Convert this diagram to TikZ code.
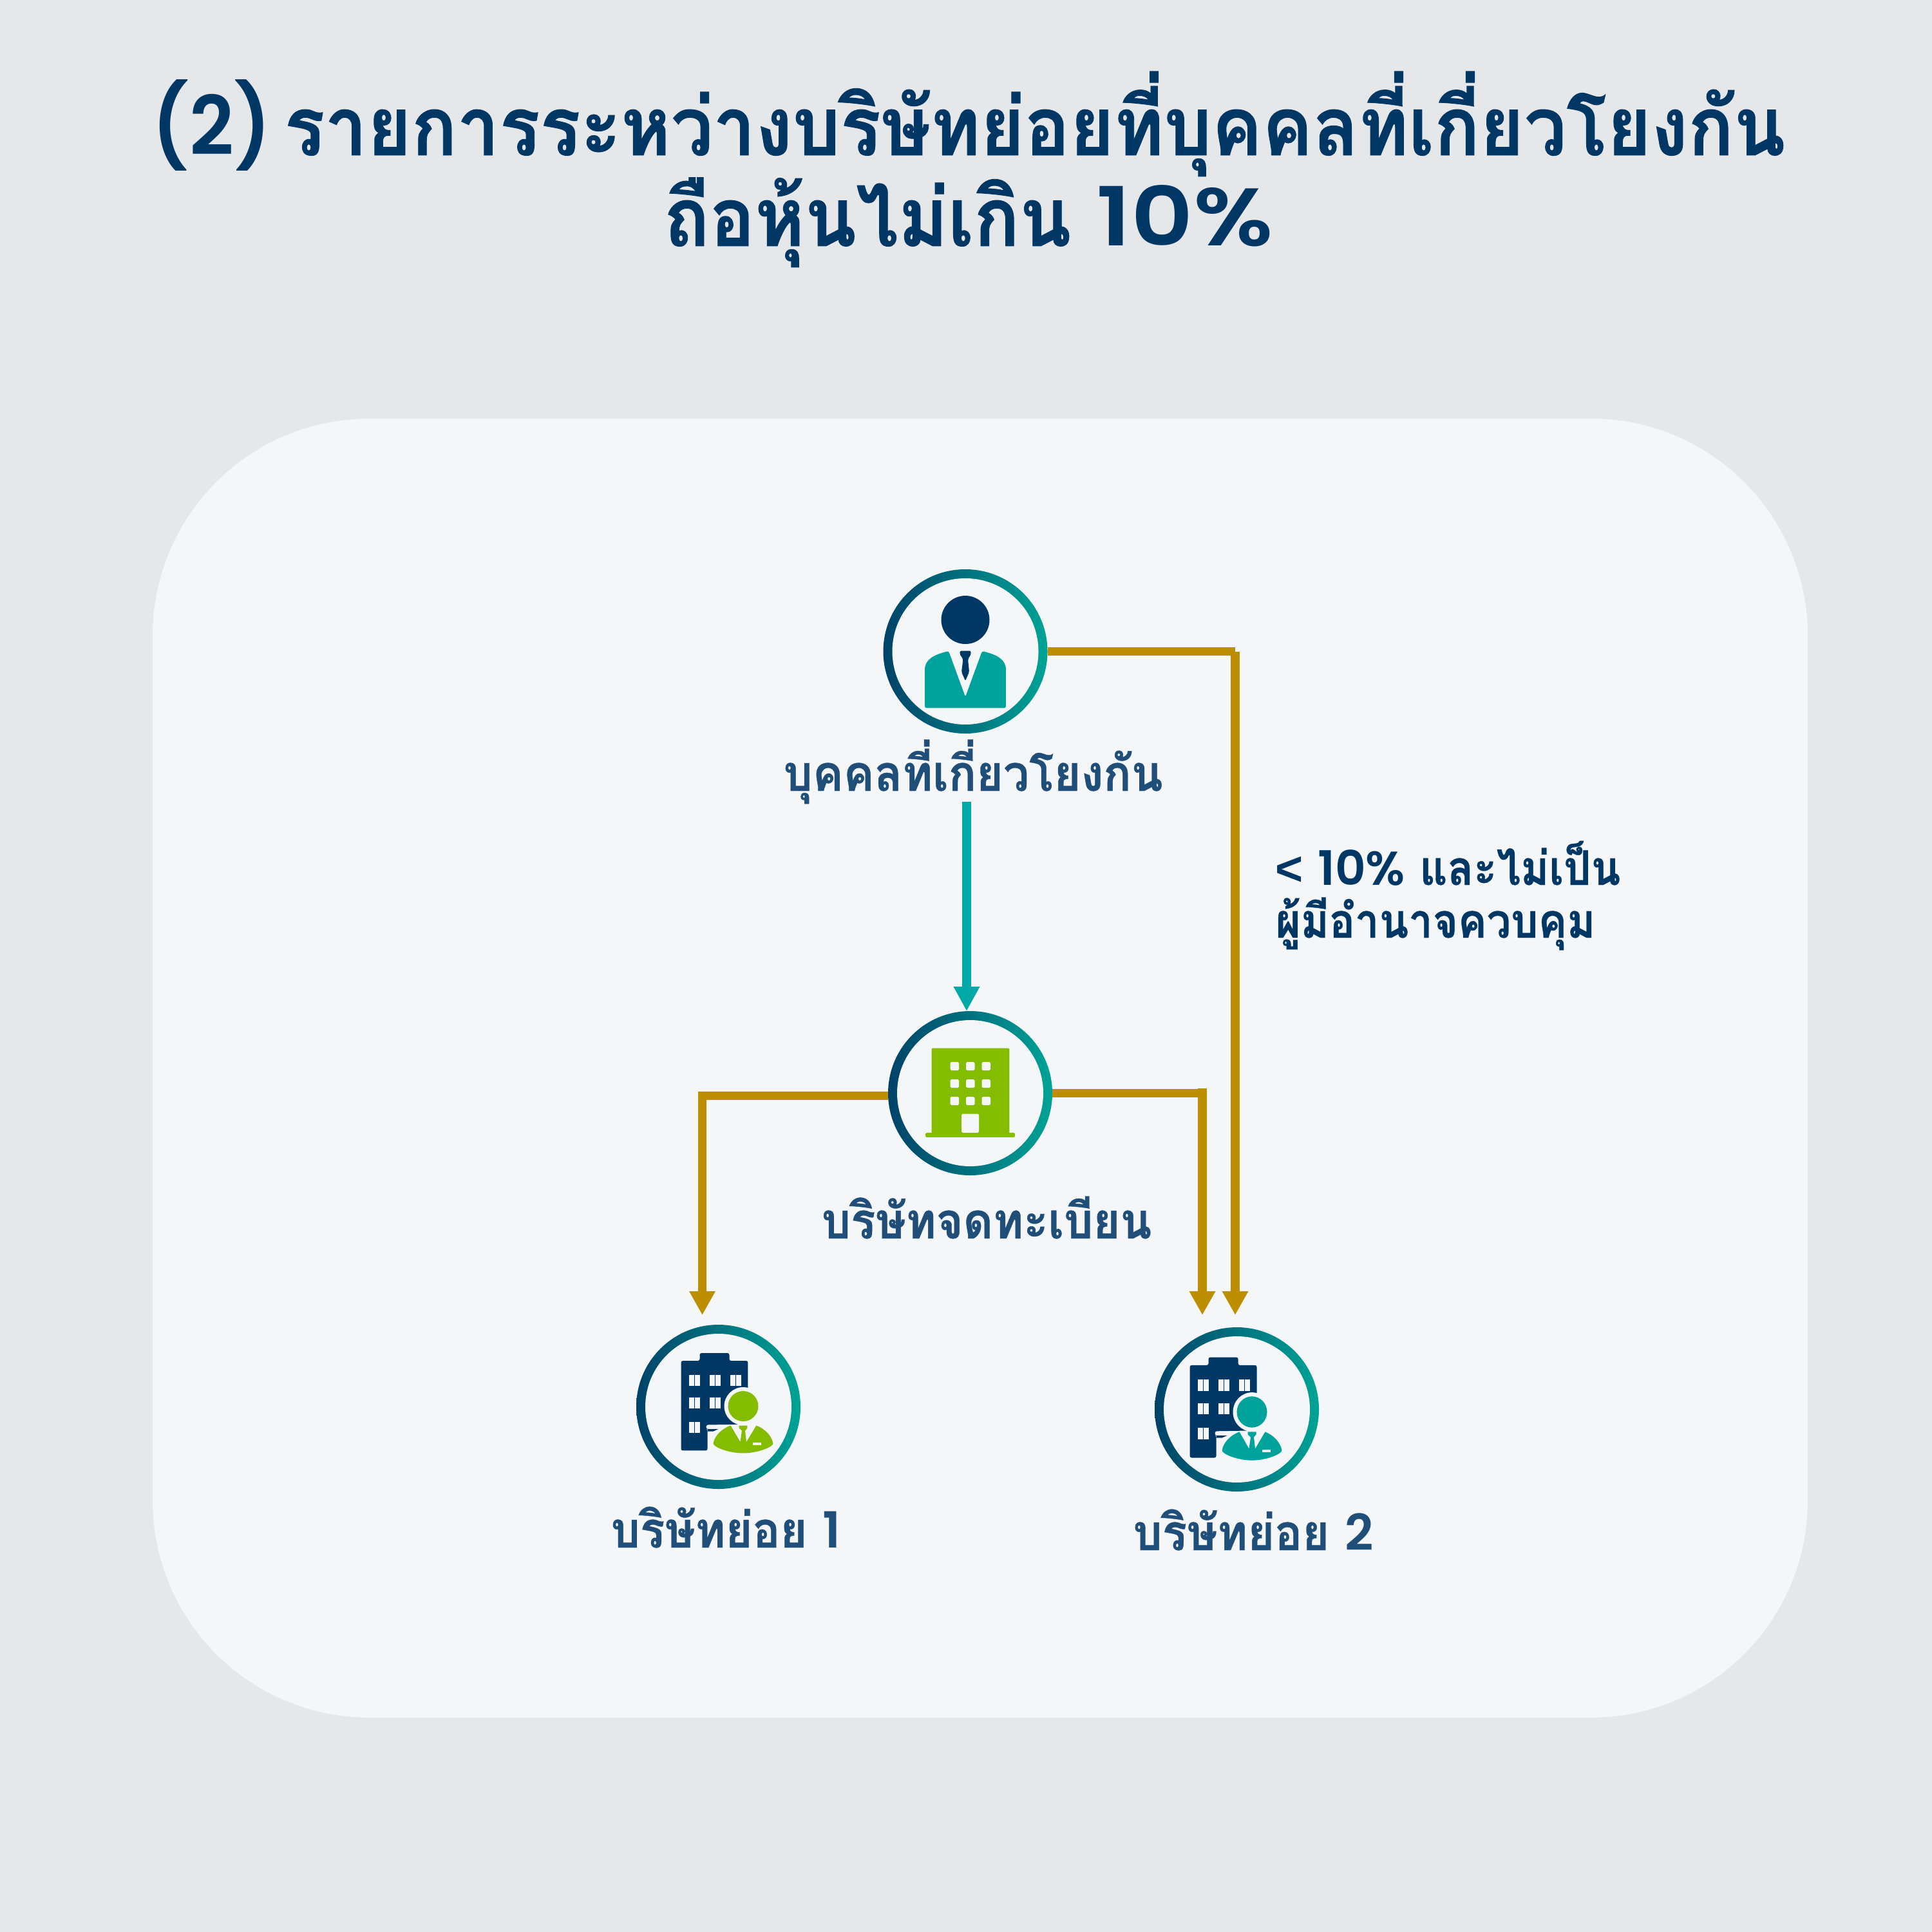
\documentclass[tikz,border=0pt]{standalone}
\usepackage{xcolor}
\usepackage{fontspec}
\usepackage{tikz}
\usetikzlibrary{arrows.meta}
\setmainfont[Script=Thai]{Loma}
\newfontfamily\titlefont[Script=Thai,FakeStretch=0.926,FakeBold=0.7]{Loma}
\newfontfamily\labelfont[Script=Thai,FakeStretch=0.925,FakeBold=0.5]{Loma}
\newfontfamily\notefont[Script=Thai,FakeStretch=0.905,FakeBold=0.5]{Loma}
\newfontfamily\latinfont[BoldFont={Poppins SemiBold}]{Poppins}
\newfontfamily\titlelatin[BoldFont={Poppins SemiBold},FakeStretch=0.95]{Poppins}
\newfontfamily\titlewide[BoldFont={Poppins SemiBold},FakeStretch=1.18]{Poppins}
\newfontfamily\signfont{Liberation Sans}
\definecolor{pagegrey}{HTML}{E5E7E9}
\definecolor{panelwhite}{HTML}{F4F6F8}
\definecolor{titlenavy}{HTML}{003764}
\definecolor{labelnavy}{HTML}{1F4E79}
\definecolor{linegold}{HTML}{BC8E00}
\definecolor{lineteal}{HTML}{00A8A6}
\definecolor{suitteal}{HTML}{00A39C}
\definecolor{iconnavy}{HTML}{003764}
\definecolor{icongreen}{HTML}{84BD00}
\definecolor{ringleft}{HTML}{004268}
\definecolor{ringright}{HTML}{00A396}
\tikzset{
	ringnode/.style = {circle, minimum size = 2.55cm, inner sep = 0pt, outer sep = 0pt, left color = ringleft, right color = ringright,
		path picture = {\fill[panelwhite] (path picture bounding box.center) circle (1.135cm);}},
	goldbar/.style = {draw = linegold, line width = 0.135cm},
	goldline/.style = {goldbar, -{Triangle[length=0.37cm,width=0.38cm]}},
	tealline/.style = {draw = lineteal, line width = 0.135cm, -{Triangle[length=0.38cm,width=0.38cm]}},
	titletext/.style = {anchor = base, text = titlenavy, font = \fontsize{36}{40}\titlefont\bfseries},
	labeltext/.style = {anchor = base, text = labelnavy, font = \fontsize{22}{24}\labelfont\bfseries},
	notetext/.style = {anchor = base west, inner sep = 0pt, text = titlenavy, font = \fontsize{21}{24}\notefont\bfseries},
}
\newcommand{\officeicon}[1]{%
	\fill[iconnavy, rounded corners = 0.8pt] (-58,-71.5) -- (-29,-71.5) -- (-29,-83.5) -- (17,-83.5) -- (17,-71.5) -- (46,-71.5) -- (46,27) -- (-19,28) -- (-19,34.5) -- (-17,34.5) -- (-17,68) -- (-58,68) -- cycle;
	\fill[iconnavy] (-17,34.5) -- (0,34.5) -- (-8,38) -- (-17,38) -- cycle;
	\foreach \wx/\wy in {-46/-50, -14/-50, 18/-50, -46/-14.5, -14/-14.5, -46/23}{
		\fill[panelwhite] (\wx,\wy) rectangle ++(8,17);
		\fill[panelwhite] (\wx+9.5,\wy) rectangle ++(8,17);
	}
	\fill[panelwhite] (38.5,-1) circle (29.5);
	\fill[#1] (38.5,-1) circle (23.5);
	\fill[#1] (19,29) -- (34,54.5) -- (36.5,37) -- (32,33) -- (32,29) -- (45,29) -- (45,33) -- (41.5,37) -- (43.5,54.5) -- (59,29) .. controls (72,34) and (83,45) .. (85,57) .. controls (85,62) and (62,72) .. (38.5,72) .. controls (15,72) and (-8,62) .. (-8,57) .. controls (-6,45) and (5,34) .. (19,29) -- cycle;
	\fill[panelwhite] (54,56) rectangle (67,60);
}
\begin{document}
\begin{tikzpicture}
	\useasboundingbox (0,0) rectangle (30,-30);
	\fill[pagegrey] (0,0) rectangle (30,-30);
	\fill[panelwhite, rounded corners = 3.37cm] (2.37,-6.5) rectangle (28.07,-26.67);

	\node[titletext, xshift = 15.04cm, yshift = -2.41cm] (ltitleone){{\titlelatin (2)} \hspace{-5.5pt}รายการระหว่างบริษัทย่อยที่บุคคลที่เกี่ยวโยงกัน};
	\node[titletext, xshift = 15.04cm, yshift = -3.82cm] (ltitletwo){ถือหุ้นไม่เกิน {\titlewide 10\%}};

	\node[ringnode, xshift = 14.99cm, yshift = -10.115cm] (nperson){};
	\node[ringnode, xshift = 15.065cm, yshift = -16.975cm] (nlisted){};
	\node[ringnode, xshift = 11.155cm, yshift = -21.845cm] (nsubone){};
	\node[ringnode, xshift = 19.205cm, yshift = -21.885cm] (nsubtwo){};

	\node[labeltext, xshift = 15.11cm, yshift = -12.28cm] (lperson){บุคคลที่เกี่ยวโยงกัน};
	\node[labeltext, xshift = 15.32cm, yshift = -19.23cm] (llisted){บริษัทจดทะเบียน};
	\node[labeltext, xshift = 11.27cm, yshift = -24.03cm] (lsubone){บริษัทย่อย {\latinfont 1}};
	\node[labeltext, xshift = 19.46cm, yshift = -24.07cm] (lsubtwo){บริษัทย่อย {\latinfont 2}};
	\node[notetext, xshift = 19.8cm, yshift = -13.74cm] (lnoteone){{\signfont <} {\latinfont 10\%} และไม่เป็น};
	\node[notetext, xshift = 19.8cm, yshift = -14.56cm] (lnotetwo){ผู้มีอำนาจควบคุม};

	\coordinate (cteal) at (15.01,-12.45);
	\coordinate (tipsubone) at (10.905,-20.42);
	\coordinate (tiplisted) at (18.67,-20.42);
	\coordinate (tipperson) at (19.18,-20.42);
	\coordinate (bendperson) at (tipperson |- nperson.east);
	\coordinate (bendlisted) at (tiplisted |- nlisted.east);

	\draw[tealline] (cteal) -- (cteal |- nlisted.north);
	\draw[goldbar] (nperson.east) -- (bendperson);
	\draw[goldline] (bendperson) -- (tipperson);
	\draw[goldbar] (nlisted.east) -- (bendlisted);
	\draw[goldline] ([yshift = 0.08cm]bendlisted) -- (tiplisted);
	\draw[goldline] ([yshift = -0.04cm]nlisted.west) -| (tipsubone);

	\begin{scope}[shift = {(nperson.center)}, x = 0.01cm, y = -0.01cm]
		\fill[iconnavy] (0,-49) circle (37.5);
		\fill[suitteal, rounded corners = 0.8pt] (-63,88) -- (-63,31) .. controls (-63,12) and (-48,5) .. (-26,-0.5) -- (0,70.7) -- (26,-0.5) .. controls (48,5) and (63,12) .. (63,31) -- (63,88) -- cycle;
		\fill[iconnavy, rounded corners = 0.6pt] (-8,-1) -- (8,-1) -- (9,4) -- (4,12) -- (6,32) -- (0,45.7) -- (-6,32) -- (-3.5,12) -- (-9,4) -- cycle;
	\end{scope}

	\begin{scope}[shift = {(nlisted.center)}, x = 0.01cm, y = -0.01cm]
		\fill[icongreen, rounded corners = 0.6pt] (-60,-70) rectangle (61,62);
		\fill[icongreen, rounded corners = 0.6pt] (-69.5,61.5) rectangle (69.5,68.5);
		\foreach \wx in {-31,-6.5,18}{
			\foreach \wy in {-48.5,-21.5,5.5}{
				\fill[panelwhite, rounded corners = 0.5pt] (\wx,\wy) rectangle ++(13.5,13);
			}
		}
		\fill[panelwhite, rounded corners = 0.5pt] (-13.5,61.5) -- (-13.5,32) -- (13.5,32) -- (13.5,61.5) -- cycle;
	\end{scope}

	\begin{scope}[shift = {(nsubone.center)}, x = 0.01cm, y = -0.01cm]
		\officeicon{icongreen}
	\end{scope}
	\begin{scope}[shift = {(nsubtwo.center)}, x = 0.01cm, y = -0.01cm, shift = {(-15,5)}, yscale = 1.03]
		\officeicon{suitteal}
	\end{scope}
\end{tikzpicture}
\end{document}
